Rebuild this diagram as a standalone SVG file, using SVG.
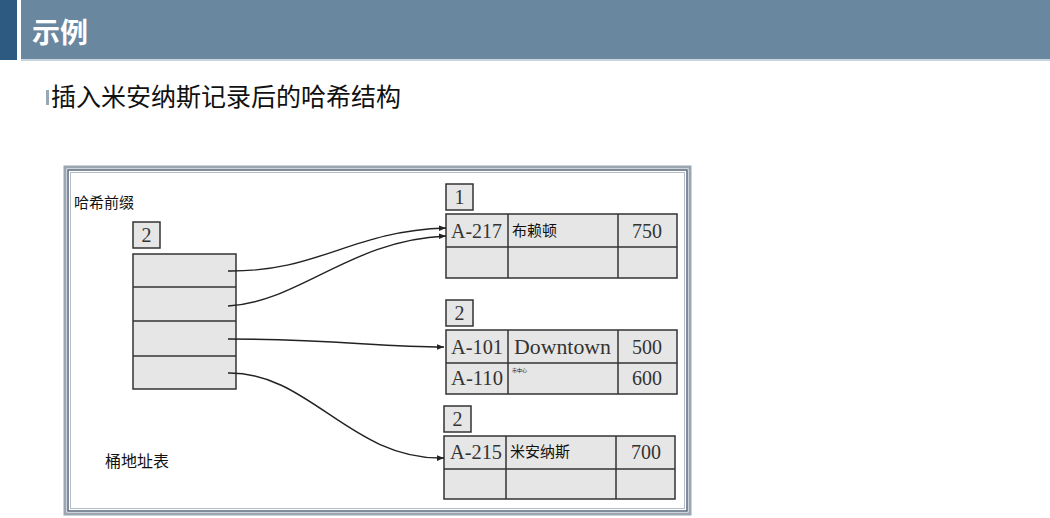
<svg xmlns="http://www.w3.org/2000/svg" width="1050" height="518" viewBox="0 0 1050 518">
  <style>
    .cell { fill: #e6e6e6; stroke: #333; stroke-width: 1.5; }
    .grid { stroke: #333; stroke-width: 1.5; fill: none; }
    .serif { font-family: "Liberation Serif", "DejaVu Serif", serif; fill: #333; }
    .cjk { font-family: "Noto Sans CJK SC", "Noto Sans", sans-serif; fill: #111; }
    .link { fill: none; stroke: #222; stroke-width: 1.4; marker-end: url(#arrow); }
  </style>
  <defs>
    <marker id="arrow" viewBox="0 0 10 10" refX="10" refY="5" markerWidth="7" markerHeight="7" markerUnits="userSpaceOnUse" orient="auto">
      <path d="M0,1 L10,5 L0,9 Z" fill="#222"/>
    </marker>
  </defs>

  <rect width="1050" height="518" fill="#fff"/>

  <!-- header bar -->
  <g id="header">
    <rect x="0" y="0" width="17" height="60" fill="#2c5a80"/>
    <rect x="21" y="0" width="1029" height="60" fill="#6a87a0"/>
    <rect x="21" y="59" width="1029" height="2" fill="#c9d6e0"/>
    <text x="32" y="43" font-family="Noto Sans CJK SC, sans-serif" font-weight="bold" font-size="28" fill="#fff">示例</text>
  </g>

  <g id="subtitle">
    <rect x="46" y="90" width="3" height="15" fill="#9aa7b4"/>
    <text x="51" y="106" class="cjk" font-size="25">插入米安纳斯记录后的哈希结构</text>
  </g>

  <!-- figure frame -->
  <g id="frame">
    <rect x="65" y="167" width="625" height="347" fill="#fff" stroke="#9ba6b2" stroke-width="3"/>
    <rect x="68" y="170" width="619" height="341" fill="none" stroke="#56667a" stroke-width="1.5"/>
    <rect x="70.5" y="172.5" width="614" height="336" fill="none" stroke="#b4bcc6" stroke-width="1"/>
  </g>

  <g id="prefix-label">
    <text x="74" y="208" class="cjk" font-size="15">哈希前缀</text>
  </g>

  <!-- bucket address table -->
  <g id="bucket-table">
    <rect x="133" y="222" width="27" height="26" class="cell"/>
    <text x="146.5" y="242" class="serif" font-size="20" text-anchor="middle">2</text>
    <rect x="133" y="254" width="103" height="135" class="cell"/>
    <line x1="133" y1="287" x2="236" y2="287" class="grid"/>
    <line x1="133" y1="321" x2="236" y2="321" class="grid"/>
    <line x1="133" y1="356" x2="236" y2="356" class="grid"/>
  </g>

  <g id="table-label">
    <text x="105" y="467" class="cjk" font-size="16">桶地址表</text>
  </g>

  <!-- bucket 1 -->
  <g id="bucket1">
    <rect x="446" y="184" width="27" height="26" class="cell"/>
    <text x="459.5" y="204" class="serif" font-size="20" text-anchor="middle">1</text>
    <rect x="446" y="214" width="231" height="64" class="cell"/>
    <line x1="446" y1="247" x2="677" y2="247" class="grid"/>
    <line x1="508" y1="214" x2="508" y2="278" class="grid"/>
    <line x1="618" y1="214" x2="618" y2="278" class="grid"/>
    <text x="451" y="238" class="serif" font-size="20" textLength="51" lengthAdjust="spacingAndGlyphs">A-217</text>
    <text x="512" y="236" class="cjk" font-size="15">布赖顿</text>
    <text x="647" y="238" class="serif" font-size="20" text-anchor="middle">750</text>
  </g>

  <!-- bucket 2 -->
  <g id="bucket2">
    <rect x="446" y="300" width="27" height="26" class="cell"/>
    <text x="459.5" y="320" class="serif" font-size="20" text-anchor="middle">2</text>
    <rect x="446" y="330" width="231" height="64" class="cell"/>
    <line x1="446" y1="363" x2="677" y2="363" class="grid"/>
    <line x1="508" y1="330" x2="508" y2="394" class="grid"/>
    <line x1="618" y1="330" x2="618" y2="394" class="grid"/>
    <text x="451" y="354" class="serif" font-size="20" textLength="52" lengthAdjust="spacingAndGlyphs">A-101</text>
    <text x="514" y="354" class="serif" font-size="20" textLength="97" lengthAdjust="spacingAndGlyphs">Downtown</text>
    <text x="647" y="354" class="serif" font-size="20" text-anchor="middle">500</text>
    <text x="451" y="385" class="serif" font-size="20" textLength="52" lengthAdjust="spacingAndGlyphs">A-110</text>
    <text x="512" y="372" class="cjk" font-size="5">市中心</text>
    <text x="647" y="385" class="serif" font-size="20" text-anchor="middle">600</text>
  </g>

  <!-- bucket 3 -->
  <g id="bucket3">
    <rect x="444" y="406" width="27" height="26" class="cell"/>
    <text x="457.5" y="426" class="serif" font-size="20" text-anchor="middle">2</text>
    <rect x="444" y="436" width="231" height="63" class="cell"/>
    <line x1="444" y1="469" x2="675" y2="469" class="grid"/>
    <line x1="506" y1="436" x2="506" y2="499" class="grid"/>
    <line x1="616" y1="436" x2="616" y2="499" class="grid"/>
    <text x="450" y="459" class="serif" font-size="20" textLength="52" lengthAdjust="spacingAndGlyphs">A-215</text>
    <text x="510" y="457" class="cjk" font-size="15">米安纳斯</text>
    <text x="646" y="459" class="serif" font-size="20" text-anchor="middle">700</text>
  </g>

  <!-- pointers from bucket address table -->
  <g id="connectors">
    <path d="M228,271 C320,272 350,231 446,228" class="link"/>
    <path d="M228,306 C300,302 350,240 446,236" class="link"/>
    <path d="M228,339 C330,339 380,347 444,347" class="link"/>
    <path d="M228,373 C310,372 350,460 444,458" class="link"/>
  </g>
</svg>
